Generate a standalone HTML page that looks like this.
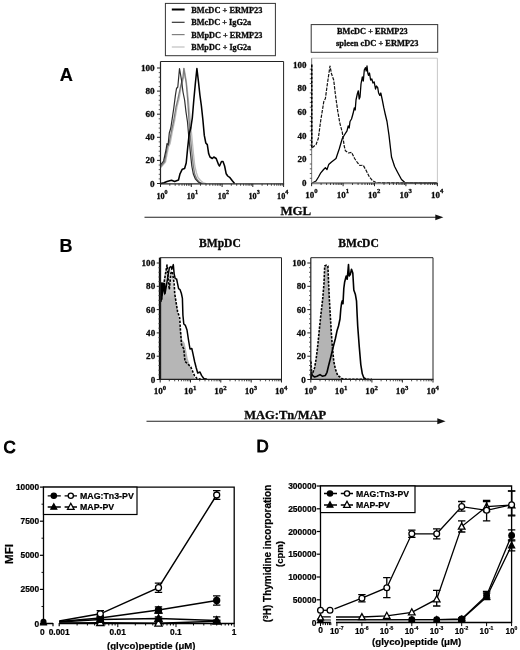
<!DOCTYPE html>
<html><head><meta charset="utf-8"><title>Figure</title>
<style>
html,body{margin:0;padding:0;background:#fff;}
body{width:520px;height:650px;overflow:hidden;}
svg{display:block;will-change:transform;transform:translateZ(0);}
.se{font-family:"Liberation Serif",serif;font-weight:bold;fill:#0a0a0a;stroke:#0a0a0a;stroke-width:0.3px;}
.sa{font-family:"Liberation Sans",sans-serif;font-weight:bold;fill:#000;stroke:#000;stroke-width:0.2px;}
</style></head><body>
<svg width="520" height="650" viewBox="0 0 520 650">
<rect width="520" height="650" fill="#fff"/>

<text class="sa" x="59.8" y="80.9" font-size="18.20" text-anchor="start">A</text>
<text class="sa" x="59.6" y="251.7" font-size="18.00" text-anchor="start">B</text>
<text class="sa" x="3.6" y="452.5" font-size="16.80" text-anchor="start" style="font-weight:normal;stroke-width:1.0px">C</text>
<text class="sa" x="256.4" y="452.3" font-size="16.80" text-anchor="start" style="font-weight:normal;stroke-width:1.0px">D</text>
<rect x="165.4" y="3.4" width="110" height="52.3" fill="#fff" stroke="#333" stroke-width="1"/>
<line x1="171.8" y1="9.5" x2="184.6" y2="9.5" stroke="#000" stroke-width="2.0"/>
<text class="se" x="191.2" y="13.1" font-size="8.70" text-anchor="start" textLength="71.2" lengthAdjust="spacingAndGlyphs">BMcDC + ERMP23</text>
<line x1="171.8" y1="22.3" x2="184.6" y2="22.3" stroke="#333" stroke-width="1.2"/>
<text class="se" x="191.2" y="25.4" font-size="8.70" text-anchor="start" textLength="60.0" lengthAdjust="spacingAndGlyphs">BMcDC + IgG2a</text>
<line x1="171.8" y1="34.6" x2="184.6" y2="34.6" stroke="#808080" stroke-width="1.2"/>
<text class="se" x="191.2" y="37.7" font-size="8.70" text-anchor="start" textLength="71.2" lengthAdjust="spacingAndGlyphs">BMpDC + ERMP23</text>
<line x1="171.8" y1="47.0" x2="184.6" y2="47.0" stroke="#c0c0c0" stroke-width="1.2"/>
<text class="se" x="191.2" y="50.1" font-size="8.70" text-anchor="start" textLength="60.0" lengthAdjust="spacingAndGlyphs">BMpDC + IgG2a</text>
<rect x="311.2" y="24.6" width="126.5" height="27.7" fill="#fff" stroke="#333" stroke-width="1"/>
<text class="se" x="337.0" y="33.9" font-size="8.70" text-anchor="start" textLength="70.7" lengthAdjust="spacingAndGlyphs">BMcDC + ERMP23</text>
<text class="se" x="336.0" y="46.4" font-size="8.70" text-anchor="start" textLength="82.5" lengthAdjust="spacingAndGlyphs">spleen cDC + ERMP23</text>
<polyline points="160.8,167.7 165.5,162.0 168.5,147.0 170.2,143.5 172.5,131.0 174.8,120.0 177.2,106.0 179.3,98.0 181.3,86.0 183.8,77.0 184.2,68.5 186.3,81.0 188.2,98.0 190.3,120.0 191.8,136.0 193.3,152.0 194.8,166.0 196.5,173.0 198.0,177.5 200.5,180.5 203.0,182.5 206.0,183.5" fill="none" stroke="#bcbcbc" stroke-width="1.3" stroke-linejoin="round"/>
<polyline points="160.8,166.5 164.7,161.5 167.5,146.5 169.2,143.0 171.5,131.0 173.8,120.0 176.0,107.0 177.7,100.0 180.7,86.0 183.0,77.0 183.8,68.5 186.2,83.0 187.7,100.0 189.0,120.0 190.3,136.0 191.8,152.0 193.3,166.0 194.8,174.5 197.0,179.5 199.5,182.3 202.5,183.5" fill="none" stroke="#7c7c7c" stroke-width="1.3" stroke-linejoin="round"/>
<polyline points="160.8,164.6 163.6,161.0 166.0,150.0 167.0,143.5 168.1,145.0 169.3,133.0 170.8,128.0 172.3,118.0 173.8,108.0 175.4,95.4 176.5,88.5 177.8,87.0 179.5,68.5 181.5,80.0 183.0,92.0 184.6,100.0 186.0,112.0 187.5,122.0 188.8,137.0 190.3,152.0 191.8,166.0 193.3,174.0 195.5,179.2 198.5,182.3 201.5,183.5" fill="none" stroke="#2c2c2c" stroke-width="1.2" stroke-linejoin="round"/>
<polyline points="160.8,183.6 164.0,182.8 167.0,181.5 171.5,180.3 174.6,181.5 178.5,180.0 180.0,173.8 182.3,169.2 184.6,168.5 186.2,163.0 187.7,147.7 189.2,133.8 190.8,128.0 192.3,118.0 193.8,100.0 195.3,84.0 196.9,68.5 198.5,82.0 199.9,95.0 201.4,106.0 202.9,120.0 204.3,135.4 205.8,143.0 207.3,144.6 208.7,153.8 210.0,157.0 212.3,158.5 213.8,157.0 216.2,158.5 218.5,164.6 219.5,166.0 221.5,161.5 223.0,161.5 224.6,166.0 226.2,173.8 227.7,176.0 230.0,177.7 232.3,180.8 234.6,183.4" fill="none" stroke="#000" stroke-width="1.55" stroke-linejoin="round"/>
<path d="M160.5,61.5 H283.6 V183.8" fill="none" stroke="#222" stroke-width="1.00"/>
<path d="M160.5,61.5 V183.8 H284.1" fill="none" stroke="#222" stroke-width="1.20"/>
<line x1="157.0" y1="183.5" x2="160.5" y2="183.5" stroke="#222" stroke-width="1"/>
<text class="se" x="154.7" y="186.5" font-size="9.20" text-anchor="end">0</text>
<line x1="157.0" y1="160.4" x2="160.5" y2="160.4" stroke="#222" stroke-width="1"/>
<text class="se" x="154.7" y="163.4" font-size="9.20" text-anchor="end">20</text>
<line x1="157.0" y1="137.3" x2="160.5" y2="137.3" stroke="#222" stroke-width="1"/>
<text class="se" x="154.7" y="140.3" font-size="9.20" text-anchor="end">40</text>
<line x1="157.0" y1="114.2" x2="160.5" y2="114.2" stroke="#222" stroke-width="1"/>
<text class="se" x="154.7" y="117.2" font-size="9.20" text-anchor="end">60</text>
<line x1="157.0" y1="91.1" x2="160.5" y2="91.1" stroke="#222" stroke-width="1"/>
<text class="se" x="154.7" y="94.1" font-size="9.20" text-anchor="end">80</text>
<line x1="157.0" y1="68.0" x2="160.5" y2="68.0" stroke="#222" stroke-width="1"/>
<text class="se" x="154.7" y="71.0" font-size="9.20" text-anchor="end">100</text>
<path d="M160.5,178.9h-1.8M160.5,174.3h-1.8M160.5,169.6h-1.8M160.5,165.0h-1.8M160.5,155.8h-1.8M160.5,151.2h-1.8M160.5,146.5h-1.8M160.5,141.9h-1.8M160.5,132.7h-1.8M160.5,128.1h-1.8M160.5,123.4h-1.8M160.5,118.8h-1.8M160.5,109.6h-1.8M160.5,105.0h-1.8M160.5,100.3h-1.8M160.5,95.7h-1.8M160.5,86.5h-1.8M160.5,81.9h-1.8M160.5,77.2h-1.8M160.5,72.6h-1.8" stroke="#333" stroke-width="0.8" fill="none"/>
<path d="M160.5,183.8v3.2M191.3,183.8v3.2M222.1,183.8v3.2M252.8,183.8v3.2M283.6,183.8v3.2" stroke="#222" stroke-width="1" fill="none"/>
<path d="M169.8,183.8v2.0M175.2,183.8v2.0M179.0,183.8v2.0M182.0,183.8v2.0M184.4,183.8v2.0M186.5,183.8v2.0M188.3,183.8v2.0M189.9,183.8v2.0M200.5,183.8v2.0M206.0,183.8v2.0M209.8,183.8v2.0M212.8,183.8v2.0M215.2,183.8v2.0M217.3,183.8v2.0M219.1,183.8v2.0M220.6,183.8v2.0M231.3,183.8v2.0M236.7,183.8v2.0M240.6,183.8v2.0M243.6,183.8v2.0M246.0,183.8v2.0M248.1,183.8v2.0M249.8,183.8v2.0M251.4,183.8v2.0M262.1,183.8v2.0M267.5,183.8v2.0M271.4,183.8v2.0M274.3,183.8v2.0M276.8,183.8v2.0M278.8,183.8v2.0M280.6,183.8v2.0M282.2,183.8v2.0" stroke="#222" stroke-width="0.8" fill="none"/>
<text class="se" x="162.0" y="198.5" font-size="8.20" text-anchor="middle">10<tspan dy="-4.4" font-size="6.07">0</tspan></text>
<text class="se" x="192.3" y="198.5" font-size="8.20" text-anchor="middle">10<tspan dy="-4.4" font-size="6.07">1</tspan></text>
<text class="se" x="223.4" y="198.5" font-size="8.20" text-anchor="middle">10<tspan dy="-4.4" font-size="6.07">2</tspan></text>
<text class="se" x="254.1" y="198.5" font-size="8.20" text-anchor="middle">10<tspan dy="-4.4" font-size="6.07">3</tspan></text>
<text class="se" x="282.7" y="198.5" font-size="8.20" text-anchor="middle">10<tspan dy="-4.4" font-size="6.07">4</tspan></text>
<line x1="312" y1="183.2" x2="437.4" y2="183.2" stroke="#808080" stroke-width="2.0"/>
<polyline points="312.2,147.7 316.0,144.6 318.3,138.5 320.8,120.0 323.8,101.5 325.4,98.5 327.5,83.0 330.0,66.0 331.5,73.8 333.7,80.0 335.5,95.4 337.7,110.8 339.8,123.0 342.3,132.3 344.2,146.0 345.4,150.8 348.5,153.0 351.5,152.3 354.6,158.5 357.7,163.0 360.0,165.5 363.2,165.2 366.3,170.8 369.4,177.0 372.5,180.6 376.0,182.5 437.0,182.8" fill="none" stroke="#111" stroke-width="1.2" stroke-dasharray="3.4,1.2" stroke-linejoin="round"/>
<polyline points="312.2,183.0 316.0,181.0 318.5,177.0 320.8,172.8 323.6,169.5 325.4,167.7 327.0,169.5 328.7,164.6 331.5,162.0 336.0,158.5 339.2,149.0 342.3,138.5 345.0,134.0 347.0,130.8 348.2,126.0 349.2,128.0 350.0,121.5 351.5,119.0 353.0,113.8 354.3,108.0 355.2,110.0 356.0,100.0 357.3,94.0 358.3,90.8 359.2,99.0 360.0,97.0 361.0,84.0 362.3,77.0 363.3,81.0 364.3,70.0 365.4,67.7 366.2,71.0 367.0,66.0 367.8,73.0 368.5,75.4 369.5,73.0 370.6,80.0 371.8,79.0 373.0,83.0 374.2,82.0 375.5,89.0 376.5,86.0 377.7,87.7 378.6,93.0 379.8,95.4 380.8,93.0 382.3,100.0 383.8,107.7 385.2,114.0 387.0,121.5 389.0,135.4 391.5,157.0 394.6,166.5 397.7,172.5 401.5,179.5 404.6,182.3 409.0,183.0 437.0,183.0" fill="none" stroke="#000" stroke-width="1.3" stroke-linejoin="round"/>
<path d="M311.6,58.2 H437.4 V183.0" fill="none" stroke="#c8c8c8" stroke-width="1.00"/>
<path d="M311.6,58.2 V183.0 H437.9" fill="none" stroke="#8a8a8a" stroke-width="1.20"/>
<text class="se" x="306.6" y="186.0" font-size="9.00" text-anchor="end">0</text>
<text class="se" x="306.6" y="162.3" font-size="9.00" text-anchor="end">20</text>
<text class="se" x="306.6" y="138.6" font-size="9.00" text-anchor="end">40</text>
<text class="se" x="306.6" y="114.9" font-size="9.00" text-anchor="end">60</text>
<text class="se" x="306.6" y="91.2" font-size="9.00" text-anchor="end">80</text>
<text class="se" x="306.6" y="67.5" font-size="9.00" text-anchor="end">100</text>
<path d="M311.6,178.3h-1.8M311.6,173.5h-1.8M311.6,168.8h-1.8M311.6,164.0h-1.8M311.6,154.6h-1.8M311.6,149.8h-1.8M311.6,145.1h-1.8M311.6,140.3h-1.8M311.6,130.9h-1.8M311.6,126.1h-1.8M311.6,121.4h-1.8M311.6,116.6h-1.8M311.6,107.2h-1.8M311.6,102.4h-1.8M311.6,97.7h-1.8M311.6,92.9h-1.8M311.6,83.5h-1.8M311.6,78.7h-1.8M311.6,74.0h-1.8M311.6,69.2h-1.8" stroke="#333" stroke-width="0.8" fill="none"/>
<path d="M311.6,183.0v3.2M343.1,183.0v3.2M374.5,183.0v3.2M405.9,183.0v3.2M437.4,183.0v3.2" stroke="#222" stroke-width="1" fill="none"/>
<path d="M321.1,183.0v2.0M326.6,183.0v2.0M330.5,183.0v2.0M333.6,183.0v2.0M336.1,183.0v2.0M338.2,183.0v2.0M340.0,183.0v2.0M341.6,183.0v2.0M352.5,183.0v2.0M358.1,183.0v2.0M362.0,183.0v2.0M365.0,183.0v2.0M367.5,183.0v2.0M369.6,183.0v2.0M371.5,183.0v2.0M373.1,183.0v2.0M384.0,183.0v2.0M389.5,183.0v2.0M393.4,183.0v2.0M396.5,183.0v2.0M399.0,183.0v2.0M401.1,183.0v2.0M402.9,183.0v2.0M404.5,183.0v2.0M415.4,183.0v2.0M421.0,183.0v2.0M424.9,183.0v2.0M427.9,183.0v2.0M430.4,183.0v2.0M432.5,183.0v2.0M434.4,183.0v2.0M436.0,183.0v2.0" stroke="#222" stroke-width="0.8" fill="none"/>
<text class="se" x="311.3" y="197.7" font-size="9.00" text-anchor="middle">10<tspan dy="-4.4" font-size="6.66">0</tspan></text>
<text class="se" x="342.8" y="197.7" font-size="9.00" text-anchor="middle">10<tspan dy="-4.4" font-size="6.66">1</tspan></text>
<text class="se" x="374.2" y="197.7" font-size="9.00" text-anchor="middle">10<tspan dy="-4.4" font-size="6.66">2</tspan></text>
<text class="se" x="405.6" y="197.7" font-size="9.00" text-anchor="middle">10<tspan dy="-4.4" font-size="6.66">3</tspan></text>
<text class="se" x="437.1" y="197.7" font-size="9.00" text-anchor="middle">10<tspan dy="-4.4" font-size="6.66">4</tspan></text>
<line x1="311.8" y1="64.5" x2="311.8" y2="148" stroke="#000" stroke-width="1.6" stroke-dasharray="3,1"/>
<text class="se" x="280.4" y="215.1" font-size="12.90" text-anchor="start">MGL</text>
<line x1="144.5" y1="217.3" x2="438" y2="217.3" stroke="#222" stroke-width="1.1"/>
<polygon points="443.4,217.3 435.3,214.4 435.3,220.2" fill="#111"/>
<text class="se" x="199.0" y="246.7" font-size="11.60" text-anchor="start">BMpDC</text>
<text class="se" x="338.3" y="246.7" font-size="11.60" text-anchor="start">BMcDC</text>
<defs><linearGradient id="gB1" gradientUnits="userSpaceOnUse" x1="0" y1="264" x2="0" y2="300"><stop offset="0" stop-color="#e6e6e6"/><stop offset="0.55" stop-color="#d2d2d2"/><stop offset="1" stop-color="#b6b6b6"/></linearGradient></defs>
<polygon points="160.5,379.3 160.5,283.0 163.0,283.0 165.0,272.0 167.0,265.5 169.0,268.0 171.0,270.0 173.0,275.0 174.2,283.8 174.7,293.5 176.2,303.0 177.6,311.7 179.2,320.0 180.8,330.8 182.3,340.0 184.6,343.0 186.2,350.8 187.7,358.5 189.2,363.0 191.5,370.8 193.8,377.0 195.4,379.3" fill="url(#gB1)"/>
<polyline points="161.5,300.0 161.8,284.0 163.2,290.0 164.5,280.0 165.8,272.0 167.0,265.0 168.0,277.0 169.3,289.5 170.9,273.0 172.3,271.5 174.2,283.8 174.7,293.5 176.2,303.0 177.6,311.7 178.6,314.6 179.7,318.0 180.5,330.8 181.5,344.6 183.8,349.0 185.0,361.5 187.7,363.8 190.8,367.0 193.0,372.3 194.6,376.0 197.0,378.5 200.8,379.2" fill="none" stroke="#000" stroke-width="1.6" stroke-dasharray="2.4,1.4" stroke-linejoin="round"/>
<polyline points="160.8,302.0 161.7,282.9 164.6,283.8 165.0,293.5 166.0,288.0 167.0,282.0 169.4,267.5 170.9,266.5 171.8,269.4 173.3,264.6 174.2,274.2 175.2,278.6 176.6,279.0 177.6,283.8 178.6,288.7 180.0,289.6 181.4,293.5 182.4,298.3 182.9,315.0 183.8,324.0 185.4,325.4 187.0,330.0 188.5,340.0 190.0,349.0 191.8,348.5 193.0,353.8 194.6,361.5 196.2,367.7 197.7,373.0 200.0,372.0 201.5,375.4 203.8,378.5 207.0,379.2" fill="none" stroke="#000" stroke-width="1.5" stroke-linejoin="round"/>
<line x1="160.0" y1="257.7" x2="160.0" y2="379.3" stroke="#000" stroke-width="2.3"/>
<path d="M161.2,283 L164.6,284.2 L165.2,293.5 L164.2,295.5 L163.4,291 L162.4,299 L161.2,302 Z" fill="#000"/>
<path d="M160.2,257.7 H281.5 V379.3" fill="none" stroke="#222" stroke-width="1.00"/>
<path d="M160.2,257.7 V379.3 H282.0" fill="none" stroke="#222" stroke-width="1.20"/>
<line x1="156.7" y1="379.5" x2="160.2" y2="379.5" stroke="#222" stroke-width="1"/>
<text class="se" x="155.2" y="382.5" font-size="9.10" text-anchor="end">0</text>
<line x1="156.7" y1="356.2" x2="160.2" y2="356.2" stroke="#222" stroke-width="1"/>
<text class="se" x="155.2" y="359.2" font-size="9.10" text-anchor="end">20</text>
<line x1="156.7" y1="332.9" x2="160.2" y2="332.9" stroke="#222" stroke-width="1"/>
<text class="se" x="155.2" y="335.9" font-size="9.10" text-anchor="end">40</text>
<line x1="156.7" y1="309.6" x2="160.2" y2="309.6" stroke="#222" stroke-width="1"/>
<text class="se" x="155.2" y="312.6" font-size="9.10" text-anchor="end">60</text>
<line x1="156.7" y1="286.3" x2="160.2" y2="286.3" stroke="#222" stroke-width="1"/>
<text class="se" x="155.2" y="289.3" font-size="9.10" text-anchor="end">80</text>
<line x1="156.7" y1="263.0" x2="160.2" y2="263.0" stroke="#222" stroke-width="1"/>
<text class="se" x="155.2" y="266.0" font-size="9.10" text-anchor="end">100</text>
<path d="M160.2,374.8h-1.8M160.2,370.2h-1.8M160.2,365.5h-1.8M160.2,360.9h-1.8M160.2,351.5h-1.8M160.2,346.9h-1.8M160.2,342.2h-1.8M160.2,337.6h-1.8M160.2,328.2h-1.8M160.2,323.6h-1.8M160.2,318.9h-1.8M160.2,314.3h-1.8M160.2,304.9h-1.8M160.2,300.3h-1.8M160.2,295.6h-1.8M160.2,291.0h-1.8M160.2,281.6h-1.8M160.2,277.0h-1.8M160.2,272.3h-1.8M160.2,267.7h-1.8" stroke="#333" stroke-width="0.8" fill="none"/>
<path d="M160.2,379.3v3.2M190.5,379.3v3.2M220.8,379.3v3.2M251.2,379.3v3.2M281.5,379.3v3.2" stroke="#222" stroke-width="1" fill="none"/>
<path d="M169.3,379.3v2.0M174.7,379.3v2.0M178.5,379.3v2.0M181.4,379.3v2.0M183.8,379.3v2.0M185.8,379.3v2.0M187.6,379.3v2.0M189.1,379.3v2.0M199.7,379.3v2.0M205.0,379.3v2.0M208.8,379.3v2.0M211.7,379.3v2.0M214.1,379.3v2.0M216.2,379.3v2.0M217.9,379.3v2.0M219.5,379.3v2.0M230.0,379.3v2.0M235.3,379.3v2.0M239.1,379.3v2.0M242.0,379.3v2.0M244.4,379.3v2.0M246.5,379.3v2.0M248.2,379.3v2.0M249.8,379.3v2.0M260.3,379.3v2.0M265.6,379.3v2.0M269.4,379.3v2.0M272.4,379.3v2.0M274.8,379.3v2.0M276.8,379.3v2.0M278.6,379.3v2.0M280.1,379.3v2.0" stroke="#222" stroke-width="0.8" fill="none"/>
<text class="se" x="159.9" y="394.0" font-size="9.10" text-anchor="middle">10<tspan dy="-4.4" font-size="6.73">0</tspan></text>
<text class="se" x="190.2" y="394.0" font-size="9.10" text-anchor="middle">10<tspan dy="-4.4" font-size="6.73">1</tspan></text>
<text class="se" x="220.5" y="394.0" font-size="9.10" text-anchor="middle">10<tspan dy="-4.4" font-size="6.73">2</tspan></text>
<text class="se" x="250.9" y="394.0" font-size="9.10" text-anchor="middle">10<tspan dy="-4.4" font-size="6.73">3</tspan></text>
<text class="se" x="281.2" y="394.0" font-size="9.10" text-anchor="middle">10<tspan dy="-4.4" font-size="6.73">4</tspan></text>
<polygon points="311.0,379.3 311.0,361.5 311.5,370.8 313.0,372.3 314.6,367.7 316.2,358.5 317.7,346.0 319.2,330.8 320.8,315.4 322.8,298.0 324.0,283.0 324.7,266.0 326.3,265.2 327.9,266.0 328.6,283.0 329.3,298.0 330.3,315.4 331.2,330.8 332.3,346.0 333.8,361.5 335.4,369.0 337.7,375.4 340.0,377.0 342.3,378.8 347.0,379.2 372.0,379.2 347.0,379.3" fill="#b4b4b4"/>
<polyline points="311.0,361.5 311.5,370.8 313.0,372.3 314.6,367.7 316.2,358.5 317.7,346.0 319.2,330.8 320.8,315.4 322.8,298.0 324.0,283.0 324.7,266.0 326.3,265.2 327.9,266.0 328.6,283.0 329.3,298.0 330.3,315.4 331.2,330.8 332.3,346.0 333.8,361.5 335.4,369.0 337.7,375.4 340.0,377.0 342.3,378.8 347.0,379.2 372.0,379.2" fill="none" stroke="#000" stroke-width="1.6" stroke-dasharray="2.4,1.3" stroke-linejoin="round"/>
<polyline points="311.0,379.2 311.5,372.3 312.3,375.4 314.6,377.0 317.0,376.2 320.0,374.6 322.3,376.2 325.4,375.4 327.0,372.3 328.5,366.0 330.8,357.0 333.0,347.7 335.4,338.5 337.0,330.8 338.5,326.0 340.0,319.0 340.8,309.0 341.6,303.0 342.3,300.8 343.0,303.8 343.8,288.5 344.6,282.3 346.2,276.0 347.2,279.2 348.5,264.6 349.2,276.0 350.3,274.6 351.5,269.2 352.8,273.0 353.8,290.0 355.4,294.6 356.5,300.8 357.2,316.0 357.7,326.0 359.2,346.0 360.8,364.6 362.3,373.8 363.8,377.7 366.2,379.2" fill="none" stroke="#000" stroke-width="1.6" stroke-linejoin="round"/>
<path d="M310.8,257.7 H433.0 V379.3" fill="none" stroke="#222" stroke-width="1.00"/>
<path d="M310.8,257.7 V379.3 H433.5" fill="none" stroke="#222" stroke-width="1.20"/>
<line x1="307.3" y1="379.5" x2="310.8" y2="379.5" stroke="#222" stroke-width="1"/>
<text class="se" x="305.8" y="382.5" font-size="9.10" text-anchor="end">0</text>
<line x1="307.3" y1="356.2" x2="310.8" y2="356.2" stroke="#222" stroke-width="1"/>
<text class="se" x="305.8" y="359.2" font-size="9.10" text-anchor="end">20</text>
<line x1="307.3" y1="332.9" x2="310.8" y2="332.9" stroke="#222" stroke-width="1"/>
<text class="se" x="305.8" y="335.9" font-size="9.10" text-anchor="end">40</text>
<line x1="307.3" y1="309.6" x2="310.8" y2="309.6" stroke="#222" stroke-width="1"/>
<text class="se" x="305.8" y="312.6" font-size="9.10" text-anchor="end">60</text>
<line x1="307.3" y1="286.3" x2="310.8" y2="286.3" stroke="#222" stroke-width="1"/>
<text class="se" x="305.8" y="289.3" font-size="9.10" text-anchor="end">80</text>
<line x1="307.3" y1="263.0" x2="310.8" y2="263.0" stroke="#222" stroke-width="1"/>
<text class="se" x="305.8" y="266.0" font-size="9.10" text-anchor="end">100</text>
<path d="M310.8,374.8h-1.8M310.8,370.2h-1.8M310.8,365.5h-1.8M310.8,360.9h-1.8M310.8,351.5h-1.8M310.8,346.9h-1.8M310.8,342.2h-1.8M310.8,337.6h-1.8M310.8,328.2h-1.8M310.8,323.6h-1.8M310.8,318.9h-1.8M310.8,314.3h-1.8M310.8,304.9h-1.8M310.8,300.3h-1.8M310.8,295.6h-1.8M310.8,291.0h-1.8M310.8,281.6h-1.8M310.8,277.0h-1.8M310.8,272.3h-1.8M310.8,267.7h-1.8" stroke="#333" stroke-width="0.8" fill="none"/>
<path d="M310.8,379.3v3.2M341.4,379.3v3.2M371.9,379.3v3.2M402.4,379.3v3.2M433.0,379.3v3.2" stroke="#222" stroke-width="1" fill="none"/>
<path d="M320.0,379.3v2.0M325.4,379.3v2.0M329.2,379.3v2.0M332.2,379.3v2.0M334.6,379.3v2.0M336.6,379.3v2.0M338.4,379.3v2.0M340.0,379.3v2.0M350.5,379.3v2.0M355.9,379.3v2.0M359.7,379.3v2.0M362.7,379.3v2.0M365.1,379.3v2.0M367.2,379.3v2.0M368.9,379.3v2.0M370.5,379.3v2.0M381.1,379.3v2.0M386.5,379.3v2.0M390.3,379.3v2.0M393.3,379.3v2.0M395.7,379.3v2.0M397.7,379.3v2.0M399.5,379.3v2.0M401.1,379.3v2.0M411.6,379.3v2.0M417.0,379.3v2.0M420.8,379.3v2.0M423.8,379.3v2.0M426.2,379.3v2.0M428.3,379.3v2.0M430.0,379.3v2.0M431.6,379.3v2.0" stroke="#222" stroke-width="0.8" fill="none"/>
<text class="se" x="310.5" y="394.0" font-size="9.10" text-anchor="middle">10<tspan dy="-4.4" font-size="6.73">0</tspan></text>
<text class="se" x="341.1" y="394.0" font-size="9.10" text-anchor="middle">10<tspan dy="-4.4" font-size="6.73">1</tspan></text>
<text class="se" x="371.6" y="394.0" font-size="9.10" text-anchor="middle">10<tspan dy="-4.4" font-size="6.73">2</tspan></text>
<text class="se" x="402.1" y="394.0" font-size="9.10" text-anchor="middle">10<tspan dy="-4.4" font-size="6.73">3</tspan></text>
<text class="se" x="432.7" y="394.0" font-size="9.10" text-anchor="middle">10<tspan dy="-4.4" font-size="6.73">4</tspan></text>
<text class="se" x="244.2" y="418.8" font-size="12.50" text-anchor="start">MAG:Tn/MAP</text>
<line x1="146.5" y1="421.3" x2="440" y2="421.3" stroke="#222" stroke-width="1.1"/>
<polygon points="445.6,421.3 437.3,418.3 437.3,424.3" fill="#111"/>
<path d="M43.5,624.1 V487.1 H234.2 V624.1" fill="none" stroke="#000" stroke-width="1.3"/>
<path d="M43.5,623.5 H53.0 M59.2,623.5 H234.2" fill="none" stroke="#000" stroke-width="1.4"/>
<path d="M53.0,622.9 v3.4 M59.2,622.9 v3.4" stroke="#000" stroke-width="1.2" fill="none"/>
<line x1="39.9" y1="623.5" x2="43.5" y2="623.5" stroke="#000" stroke-width="1.2"/>
<text class="sa" x="39.2" y="626.5" font-size="8.40" text-anchor="end">0</text>
<line x1="39.9" y1="589.4" x2="43.5" y2="589.4" stroke="#000" stroke-width="1.2"/>
<text class="sa" x="39.2" y="592.4" font-size="8.40" text-anchor="end">2500</text>
<line x1="39.9" y1="555.3" x2="43.5" y2="555.3" stroke="#000" stroke-width="1.2"/>
<text class="sa" x="39.2" y="558.3" font-size="8.40" text-anchor="end">5000</text>
<line x1="39.9" y1="521.2" x2="43.5" y2="521.2" stroke="#000" stroke-width="1.2"/>
<text class="sa" x="39.2" y="524.2" font-size="8.40" text-anchor="end">7500</text>
<line x1="39.9" y1="487.1" x2="43.5" y2="487.1" stroke="#000" stroke-width="1.2"/>
<text class="sa" x="39.2" y="490.1" font-size="8.40" text-anchor="end">10000</text>
<line x1="41.5" y1="606.5" x2="43.5" y2="606.5" stroke="#000" stroke-width="0.9"/>
<line x1="41.5" y1="572.4" x2="43.5" y2="572.4" stroke="#000" stroke-width="0.9"/>
<line x1="41.5" y1="538.2" x2="43.5" y2="538.2" stroke="#000" stroke-width="0.9"/>
<line x1="41.5" y1="504.2" x2="43.5" y2="504.2" stroke="#000" stroke-width="0.9"/>
<path d="M77.1,623.5v2.0M87.4,623.5v2.0M94.6,623.5v2.0M100.3,623.5v2.0M104.9,623.5v2.0M108.8,623.5v2.0M112.2,623.5v2.0M115.1,623.5v2.0M117.8,623.5v3.6M135.3,623.5v2.0M145.6,623.5v2.0M152.8,623.5v2.0M158.5,623.5v2.0M163.1,623.5v2.0M167.0,623.5v2.0M170.4,623.5v2.0M173.3,623.5v2.0M176.0,623.5v3.6M193.5,623.5v2.0M203.8,623.5v2.0M211.0,623.5v2.0M216.7,623.5v2.0M221.3,623.5v2.0M225.2,623.5v2.0M228.6,623.5v2.0M231.5,623.5v2.0M234.2,623.5v3.6" stroke="#000" stroke-width="1.0" fill="none"/>
<text class="sa" x="42.3" y="635.4" font-size="8.40" text-anchor="middle">0</text>
<text class="sa" x="59.2" y="635.4" font-size="8.40" text-anchor="middle">0.001</text>
<text class="sa" x="117.7" y="635.4" font-size="8.40" text-anchor="middle">0.01</text>
<text class="sa" x="175.8" y="635.4" font-size="8.40" text-anchor="middle">0.1</text>
<text class="sa" x="234.0" y="635.4" font-size="8.40" text-anchor="middle">1</text>
<text class="sa" x="107.0" y="649.0" font-size="9.60" text-anchor="start">(glyco)peptide (μM)</text>
<text class="sa" font-size="11.6" text-anchor="middle" transform="translate(13.0,554) rotate(-90)">MFI</text>
<rect x="43.5" y="487.1" width="93.5" height="27.4" fill="#fff" stroke="#000" stroke-width="1.2"/>
<path d="M47.7,495.8H60.8 M64.6,495.8H77.0 M47.7,507.0H60.8 M64.6,507.0H77.0" stroke="#000" stroke-width="1.35" fill="none"/>
<circle cx="53.8" cy="495.8" r="2.6" fill="#000" stroke="#000" stroke-width="1.3"/>
<circle cx="70.8" cy="495.8" r="2.6" fill="#fff" stroke="#000" stroke-width="1.3"/>
<polygon points="53.8,503.9 50.9,509.2 56.7,509.2" fill="#000" stroke="#000" stroke-width="1.3" stroke-linejoin="miter"/>
<polygon points="70.8,503.3 67.5,509.4 74.1,509.4" fill="#fff" stroke="#000" stroke-width="1.3" stroke-linejoin="miter"/>
<text class="sa" x="80.0" y="498.9" font-size="8.80" text-anchor="start">MAG:Tn3-PV</text>
<text class="sa" x="80.0" y="510.1" font-size="8.80" text-anchor="start">MAP-PV</text>
<polyline points="59.2,623.0 100.3,622.6 158.5,623.2 216.7,621.2" fill="none" stroke="#000" stroke-width="1.45"/>
<polyline points="59.2,622.0 100.3,619.5 158.5,618.5 216.7,620.5" fill="none" stroke="#000" stroke-width="1.45"/>
<polyline points="59.2,621.5 100.3,618.0 158.5,610.0 216.7,600.5" fill="none" stroke="#000" stroke-width="1.45"/>
<polyline points="59.2,621.0 100.3,613.8 158.5,587.7 216.7,495.0" fill="none" stroke="#000" stroke-width="1.45"/>
<polygon points="43.5,619.7 40.7,624.8 46.3,624.8" fill="#fff" stroke="#000" stroke-width="1.3" stroke-linejoin="miter"/>
<polygon points="43.5,618.9 40.7,624.0 46.3,624.0" fill="#000" stroke="#000" stroke-width="1.3" stroke-linejoin="miter"/>
<circle cx="43.5" cy="621.8" r="2.4" fill="#000" stroke="#000" stroke-width="1.3"/>
<path d="M100.3,621.6V623.6 M96.6,621.6h7.4 M96.6,623.6h7.4" stroke="#000" stroke-width="1.3" fill="none"/>
<polygon points="100.3,618.8 96.7,625.5 103.9,625.5" fill="#fff" stroke="#000" stroke-width="1.3" stroke-linejoin="miter"/>
<path d="M158.5,622.2V624.2 M154.8,622.2h7.4 M154.8,624.2h7.4" stroke="#000" stroke-width="1.3" fill="none"/>
<polygon points="158.5,619.4 154.9,626.1 162.1,626.1" fill="#fff" stroke="#000" stroke-width="1.3" stroke-linejoin="miter"/>
<path d="M216.7,620.2V622.2 M213.0,620.2h7.4 M213.0,622.2h7.4" stroke="#000" stroke-width="1.3" fill="none"/>
<polygon points="216.7,617.4 213.1,624.1 220.3,624.1" fill="#fff" stroke="#000" stroke-width="1.3" stroke-linejoin="miter"/>
<path d="M100.3,618.0V621.0 M96.6,618.0h7.4 M96.6,621.0h7.4" stroke="#000" stroke-width="1.3" fill="none"/>
<polygon points="100.3,615.7 96.7,622.4 103.9,622.4" fill="#000" stroke="#000" stroke-width="1.3" stroke-linejoin="miter"/>
<path d="M158.5,617.0V620.0 M154.8,617.0h7.4 M154.8,620.0h7.4" stroke="#000" stroke-width="1.3" fill="none"/>
<polygon points="158.5,614.7 154.9,621.4 162.1,621.4" fill="#000" stroke="#000" stroke-width="1.3" stroke-linejoin="miter"/>
<path d="M216.7,616.9V621.0 M213.0,616.9h7.4 M213.0,621.0h7.4" stroke="#000" stroke-width="1.3" fill="none"/>
<polygon points="216.7,616.7 213.1,623.4 220.3,623.4" fill="#000" stroke="#000" stroke-width="1.3" stroke-linejoin="miter"/>
<path d="M100.3,616.0V620.0 M96.6,616.0h7.4 M96.6,620.0h7.4" stroke="#000" stroke-width="1.3" fill="none"/>
<circle cx="100.3" cy="618.0" r="3.0" fill="#000" stroke="#000" stroke-width="1.3"/>
<path d="M158.5,606.8V613.2 M154.8,606.8h7.4 M154.8,613.2h7.4" stroke="#000" stroke-width="1.3" fill="none"/>
<circle cx="158.5" cy="610.0" r="3.0" fill="#000" stroke="#000" stroke-width="1.3"/>
<polygon points="158.5,606.6 155.0,613.1 162.0,613.1" fill="#000" stroke="#000" stroke-width="1.3" stroke-linejoin="miter"/>
<path d="M216.7,595.9V605.1 M213.0,595.9h7.4 M213.0,605.1h7.4" stroke="#000" stroke-width="1.3" fill="none"/>
<circle cx="216.7" cy="600.5" r="3.0" fill="#000" stroke="#000" stroke-width="1.3"/>
<path d="M100.3,610.6V617.0 M96.6,610.6h7.4 M96.6,617.0h7.4" stroke="#000" stroke-width="1.3" fill="none"/>
<circle cx="100.3" cy="613.8" r="3.0" fill="#fff" stroke="#000" stroke-width="1.3"/>
<path d="M158.5,583.1V592.3 M154.8,583.1h7.4 M154.8,592.3h7.4" stroke="#000" stroke-width="1.3" fill="none"/>
<circle cx="158.5" cy="587.7" r="3.0" fill="#fff" stroke="#000" stroke-width="1.3"/>
<path d="M216.7,490.6V499.4 M213.0,490.6h7.4 M213.0,499.4h7.4" stroke="#000" stroke-width="1.3" fill="none"/>
<circle cx="216.7" cy="495.0" r="3.0" fill="#fff" stroke="#000" stroke-width="1.3"/>
<path d="M320.5,623.1 V486.0 H511.6 V623.1" fill="none" stroke="#000" stroke-width="1.3"/>
<path d="M320.5,622.5 H330.8 M336.0,622.5 H511.6" fill="none" stroke="#000" stroke-width="1.4"/>
<line x1="316.9" y1="622.5" x2="320.5" y2="622.5" stroke="#000" stroke-width="1.2"/>
<text class="sa" x="316.5" y="625.6" font-size="8.50" text-anchor="end">0</text>
<line x1="316.9" y1="599.8" x2="320.5" y2="599.8" stroke="#000" stroke-width="1.2"/>
<text class="sa" x="316.5" y="602.9" font-size="8.50" text-anchor="end">50000</text>
<line x1="316.9" y1="577.0" x2="320.5" y2="577.0" stroke="#000" stroke-width="1.2"/>
<text class="sa" x="316.5" y="580.1" font-size="8.50" text-anchor="end">100000</text>
<line x1="316.9" y1="554.2" x2="320.5" y2="554.2" stroke="#000" stroke-width="1.2"/>
<text class="sa" x="316.5" y="557.4" font-size="8.50" text-anchor="end">150000</text>
<line x1="316.9" y1="531.5" x2="320.5" y2="531.5" stroke="#000" stroke-width="1.2"/>
<text class="sa" x="316.5" y="534.6" font-size="8.50" text-anchor="end">200000</text>
<line x1="316.9" y1="508.8" x2="320.5" y2="508.8" stroke="#000" stroke-width="1.2"/>
<text class="sa" x="316.5" y="511.9" font-size="8.50" text-anchor="end">250000</text>
<line x1="316.9" y1="486.0" x2="320.5" y2="486.0" stroke="#000" stroke-width="1.2"/>
<text class="sa" x="316.5" y="489.1" font-size="8.50" text-anchor="end">300000</text>
<path d="M336.9,622.5v3.6M361.9,622.5v3.6M386.8,622.5v3.6M411.8,622.5v3.6M436.7,622.5v3.6M461.7,622.5v3.6M486.6,622.5v3.6M511.6,622.5v3.6M320.5,622.5v3.6M323.0,622.5v2.6M325.4,622.5v2.6M327.6,622.5v2.6M329.4,622.5v2.6M330.8,622.5v2.6" stroke="#000" stroke-width="1.0" fill="none"/>
<text class="sa" x="320.5" y="633.4" font-size="8.50" text-anchor="middle">0</text>
<text class="sa" x="336.7" y="633.6" font-size="8.2" text-anchor="middle">10<tspan dy="-3.4" font-size="5.0">-7</tspan></text>
<text class="sa" x="361.7" y="633.6" font-size="8.2" text-anchor="middle">10<tspan dy="-3.4" font-size="5.0">-6</tspan></text>
<text class="sa" x="386.6" y="633.6" font-size="8.2" text-anchor="middle">10<tspan dy="-3.4" font-size="5.0">-5</tspan></text>
<text class="sa" x="411.6" y="633.6" font-size="8.2" text-anchor="middle">10<tspan dy="-3.4" font-size="5.0">-4</tspan></text>
<text class="sa" x="436.5" y="633.6" font-size="8.2" text-anchor="middle">10<tspan dy="-3.4" font-size="5.0">-3</tspan></text>
<text class="sa" x="461.5" y="633.6" font-size="8.2" text-anchor="middle">10<tspan dy="-3.4" font-size="5.0">-2</tspan></text>
<text class="sa" x="486.4" y="633.6" font-size="8.2" text-anchor="middle">10<tspan dy="-3.4" font-size="5.0">-1</tspan></text>
<text class="sa" x="511.4" y="633.6" font-size="8.2" text-anchor="middle">10<tspan dy="-3.4" font-size="5.0">0</tspan></text>
<text class="sa" x="372.0" y="645.2" font-size="9.70" text-anchor="start">(glyco)peptide (μM)</text>
<text class="sa" font-size="10.0" text-anchor="middle" transform="translate(271.0,553.5) rotate(-90)">(<tspan dy="-3.4" font-size="6.6">3</tspan><tspan dy="3.4">H) Thymidine incorporation</tspan></text>
<text class="sa" font-size="9.6" text-anchor="middle" transform="translate(283.4,554) rotate(-90)">(cpm)</text>
<rect x="320.5" y="486.0" width="94.5" height="26.6" fill="#fff" stroke="#000" stroke-width="1.2"/>
<path d="M324.0,493.5H337.0 M340.8,493.5H353.0 M324.0,505.0H337.0 M340.8,505.0H353.0" stroke="#000" stroke-width="1.35" fill="none"/>
<circle cx="330.0" cy="493.5" r="2.6" fill="#000" stroke="#000" stroke-width="1.3"/>
<circle cx="347.0" cy="493.5" r="2.6" fill="#fff" stroke="#000" stroke-width="1.3"/>
<polygon points="330.0,501.9 327.1,507.2 332.9,507.2" fill="#000" stroke="#000" stroke-width="1.3" stroke-linejoin="miter"/>
<polygon points="347.0,501.3 343.7,507.4 350.3,507.4" fill="#fff" stroke="#000" stroke-width="1.3" stroke-linejoin="miter"/>
<text class="sa" x="356.0" y="496.6" font-size="8.70" text-anchor="start">MAG:Tn3-PV</text>
<text class="sa" x="356.0" y="508.1" font-size="8.70" text-anchor="start">MAP-PV</text>
<polyline points="336.0,620.0 361.9,620.0 386.8,620.0 411.8,619.9 436.7,619.9 461.7,619.3 486.6,597.0 511.6,545.4" fill="none" stroke="#000" stroke-width="1.3"/>
<polyline points="336.0,620.0 361.9,620.0 386.8,620.0 411.8,619.7 436.7,619.6 461.7,619.0 486.6,595.4 511.6,535.4" fill="none" stroke="#000" stroke-width="1.3"/>
<polyline points="336.0,617.0 361.9,617.0 386.8,615.8 411.8,612.3 436.7,599.2 461.7,526.6 486.6,506.6 511.6,505.1" fill="none" stroke="#000" stroke-width="1.3"/>
<path d="M320.5,616.8H330.8 M320.5,620.0H330.8" stroke="#000" stroke-width="1.25" fill="none"/>
<path d="M321.5,621.0H330.8 M336.0,621.0H459.7" stroke="#a8a8a8" stroke-width="1.5" fill="none"/>
<polyline points="334.5,608.9 361.9,598.2 386.8,587.7 411.8,533.8 436.7,533.8 461.7,506.6 486.6,510.3 511.6,504.7" fill="none" stroke="#000" stroke-width="1.3"/>
<line x1="320.5" y1="610.3" x2="330.0" y2="610.3" stroke="#000" stroke-width="1.3"/>
<polygon points="320.5,617.3 317.7,622.5 323.3,622.5" fill="#000" stroke="#000" stroke-width="1.3" stroke-linejoin="miter"/>
<circle cx="320.5" cy="619.8" r="2.4" fill="#000" stroke="#000" stroke-width="1.3"/>
<polygon points="320.5,614.3 317.5,619.9 323.5,619.9" fill="#fff" stroke="#000" stroke-width="1.3" stroke-linejoin="miter"/>
<circle cx="320.5" cy="610.3" r="2.9" fill="#fff" stroke="#000" stroke-width="1.3"/>
<circle cx="330.0" cy="610.3" r="2.9" fill="#fff" stroke="#000" stroke-width="1.3"/>
<polygon points="411.8,616.7 408.8,622.3 414.8,622.3" fill="#000" stroke="#000" stroke-width="1.3" stroke-linejoin="miter"/>
<circle cx="411.8" cy="619.7" r="2.8" fill="#000" stroke="#000" stroke-width="1.3"/>
<polygon points="436.7,616.7 433.7,622.3 439.7,622.3" fill="#000" stroke="#000" stroke-width="1.3" stroke-linejoin="miter"/>
<circle cx="436.7" cy="619.6" r="2.8" fill="#000" stroke="#000" stroke-width="1.3"/>
<path d="M461.7,618.1V620.5 M458.0,618.1h7.4 M458.0,620.5h7.4" stroke="#000" stroke-width="1.3" fill="none"/>
<polygon points="461.7,616.2 458.7,621.7 464.7,621.7" fill="#000" stroke="#000" stroke-width="1.3" stroke-linejoin="miter"/>
<path d="M461.7,617.8V620.2 M458.0,617.8h7.4 M458.0,620.2h7.4" stroke="#000" stroke-width="1.3" fill="none"/>
<circle cx="461.7" cy="619.0" r="2.8" fill="#000" stroke="#000" stroke-width="1.3"/>
<path d="M486.6,593.0V599.5 M482.9,593.0h7.4 M482.9,599.5h7.4" stroke="#000" stroke-width="1.3" fill="none"/>
<polygon points="486.6,593.9 483.6,599.4 489.6,599.4" fill="#000" stroke="#000" stroke-width="1.3" stroke-linejoin="miter"/>
<path d="M486.6,591.4V597.9 M482.9,591.4h7.4 M482.9,597.9h7.4" stroke="#000" stroke-width="1.3" fill="none"/>
<circle cx="486.6" cy="595.4" r="2.8" fill="#000" stroke="#000" stroke-width="1.3"/>
<path d="M511.6,539.9V550.9 M507.9,539.9h7.4 M507.9,550.9h7.4" stroke="#000" stroke-width="1.3" fill="none"/>
<polygon points="511.6,542.2 508.6,547.8 514.6,547.8" fill="#000" stroke="#000" stroke-width="1.3" stroke-linejoin="miter"/>
<path d="M511.6,529.9V540.9 M507.9,529.9h7.4 M507.9,540.9h7.4" stroke="#000" stroke-width="1.3" fill="none"/>
<circle cx="511.6" cy="535.4" r="2.8" fill="#000" stroke="#000" stroke-width="1.3"/>
<polygon points="361.9,613.6 358.6,619.7 365.2,619.7" fill="#fff" stroke="#000" stroke-width="1.3" stroke-linejoin="miter"/>
<polygon points="386.8,612.3 383.5,618.5 390.1,618.5" fill="#fff" stroke="#000" stroke-width="1.3" stroke-linejoin="miter"/>
<polygon points="411.8,608.8 408.5,614.9 415.1,614.9" fill="#fff" stroke="#000" stroke-width="1.3" stroke-linejoin="miter"/>
<path d="M436.7,590.3V606.0 M433.0,590.3h7.4 M433.0,606.0h7.4" stroke="#000" stroke-width="1.3" fill="none"/>
<polygon points="436.7,595.7 433.4,601.8 440.0,601.8" fill="#fff" stroke="#000" stroke-width="1.3" stroke-linejoin="miter"/>
<path d="M461.7,520.8V532.0 M458.0,520.8h7.4 M458.0,532.0h7.4" stroke="#000" stroke-width="1.3" fill="none"/>
<polygon points="461.7,523.1 458.4,529.2 465.0,529.2" fill="#fff" stroke="#000" stroke-width="1.3" stroke-linejoin="miter"/>
<path d="M486.6,501.6V511.6 M482.9,501.6h7.4 M482.9,511.6h7.4" stroke="#000" stroke-width="1.3" fill="none"/>
<polygon points="486.6,503.1 483.3,509.3 489.9,509.3" fill="#fff" stroke="#000" stroke-width="1.3" stroke-linejoin="miter"/>
<path d="M511.6,491.1V515.1 M507.9,491.1h7.4 M507.9,515.1h7.4" stroke="#000" stroke-width="1.3" fill="none"/>
<polygon points="511.6,501.6 508.3,507.8 514.9,507.8" fill="#fff" stroke="#000" stroke-width="1.3" stroke-linejoin="miter"/>
<path d="M361.9,594.6V601.8 M358.2,594.6h7.4 M358.2,601.8h7.4" stroke="#000" stroke-width="1.3" fill="none"/>
<circle cx="361.9" cy="598.2" r="2.9" fill="#fff" stroke="#000" stroke-width="1.3"/>
<path d="M386.8,577.7V597.7 M383.1,577.7h7.4 M383.1,597.7h7.4" stroke="#000" stroke-width="1.3" fill="none"/>
<circle cx="386.8" cy="587.7" r="2.9" fill="#fff" stroke="#000" stroke-width="1.3"/>
<path d="M411.8,530.2V537.4 M408.1,530.2h7.4 M408.1,537.4h7.4" stroke="#000" stroke-width="1.3" fill="none"/>
<circle cx="411.8" cy="533.8" r="2.9" fill="#fff" stroke="#000" stroke-width="1.3"/>
<path d="M436.7,528.8V538.8 M433.0,528.8h7.4 M433.0,538.8h7.4" stroke="#000" stroke-width="1.3" fill="none"/>
<circle cx="436.7" cy="533.8" r="2.9" fill="#fff" stroke="#000" stroke-width="1.3"/>
<path d="M461.7,501.5V511.2 M458.0,501.5h7.4 M458.0,511.2h7.4" stroke="#000" stroke-width="1.3" fill="none"/>
<circle cx="461.7" cy="506.6" r="2.9" fill="#fff" stroke="#000" stroke-width="1.3"/>
<path d="M486.6,500.5V520.8 M482.9,500.5h7.4 M482.9,520.8h7.4" stroke="#000" stroke-width="1.3" fill="none"/>
<circle cx="486.6" cy="510.3" r="2.9" fill="#fff" stroke="#000" stroke-width="1.3"/>
<path d="M511.6,490.9V515.9 M507.9,490.9h7.4 M507.9,515.9h7.4" stroke="#000" stroke-width="1.3" fill="none"/>
<circle cx="511.6" cy="504.7" r="2.9" fill="#fff" stroke="#000" stroke-width="1.3"/>
</svg></body></html>
